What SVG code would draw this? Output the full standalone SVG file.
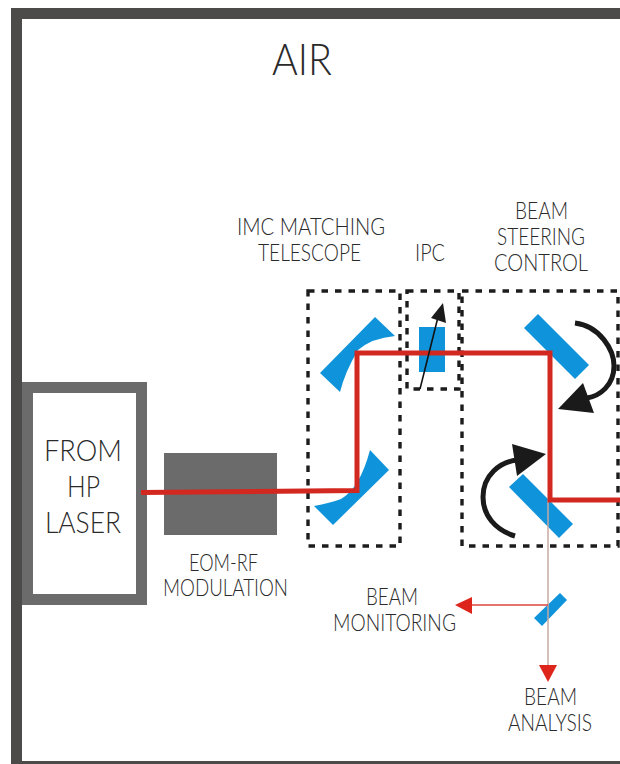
<svg xmlns="http://www.w3.org/2000/svg" width="620" height="764" viewBox="0 0 620 764">
<style>
text{font-family:"Lato","Liberation Sans",sans-serif;font-weight:300;fill:#2a2a2a;text-anchor:start}
.s{font-size:23px}
.l{font-size:30px}
.m{fill:#0f93da}
.d{fill:none;stroke:#1c1c1c;stroke-width:3.4;stroke-dasharray:6.5 7}
.b{fill:none;stroke:#d3281f;stroke-width:5;stroke-linejoin:miter}
.c{fill:none;stroke:#1a1a1a;stroke-width:5}
.t{fill:#1a1a1a}
.g{fill:#6b6b6b}
</style>
<rect width="620" height="764" fill="#fff"/>
<g id="frame"><path d="M620 8H11V764H22V19H620Z" fill="#4d4a4a"/><rect x="22" y="761" width="598" height="3" fill="#4d4a4a"/></g>
<g id="air"><text x="272" y="75" font-size="44" textLength="60" lengthAdjust="spacingAndGlyphs">AIR</text></g>
<g id="laser"><path fill-rule="evenodd" class="g" d="M22 382H147V605H22ZM33 393V594H136V393Z"/>
<text class="l" x="44" y="461" textLength="78" lengthAdjust="spacingAndGlyphs">FROM</text>
<text class="l" x="67" y="497" textLength="33" lengthAdjust="spacingAndGlyphs">HP</text>
<text class="l" x="45" y="533" textLength="76" lengthAdjust="spacingAndGlyphs">LASER</text></g>
<g id="eom"><rect x="164" y="453" width="113" height="82" class="g"/>
<text class="s" x="189" y="571" textLength="69" lengthAdjust="spacingAndGlyphs">EOM-RF</text>
<text class="s" x="163" y="596" textLength="125" lengthAdjust="spacingAndGlyphs">MODULATION</text></g>
<g id="telescope"><rect x="308" y="291" width="92" height="255" class="d"/>
<text class="s" x="237" y="235" textLength="148" lengthAdjust="spacingAndGlyphs">IMC MATCHING</text>
<text class="s" x="258" y="261" textLength="103" lengthAdjust="spacingAndGlyphs">TELESCOPE</text>
<path class="m" d="M375 317L395 336Q372 338 358 350Q345 372 340 392L320 373Z"/>
<path class="m" d="M370 450L389 470L333 525L314 506Q330 503 341 499Q360 488 370 450Z"/></g>
<g id="ipc"><rect x="407" y="291" width="52" height="98" class="d"/>
<text class="s" x="415" y="261" textLength="30" lengthAdjust="spacingAndGlyphs">IPC</text>
<rect class="m" x="419" y="327" width="26" height="45"/></g>
<g id="steering"><rect x="462" y="291" width="156" height="255" class="d"/>
<text class="s" x="515" y="219" textLength="53" lengthAdjust="spacingAndGlyphs">BEAM</text>
<text class="s" x="497" y="245" textLength="88" lengthAdjust="spacingAndGlyphs">STEERING</text>
<text class="s" x="494" y="271" textLength="94" lengthAdjust="spacingAndGlyphs">CONTROL</text>
<path class="m" d="M538 314L589 365L575 379L524 328Z"/>
<path class="m" d="M523 474L573 524L559 538L509 487Z"/></g>
<g id="pickoff"><path class="m" d="M560 593L567 600L542 626L534 618Z"/></g>
<g id="connectors">
<path d="M548 500V665" fill="none" stroke="#c9a9a0" stroke-width="1.5"/>
<path d="M548 605H472" fill="none" stroke="#d8443c" stroke-width="1.6"/>
<path class="b" d="M141 492.5L357 490.5V353H550V500H620"/>
<path d="M539 665H557L548 682Z" fill="#de251c"/>
<path d="M472 597V614L455 605Z" fill="#de251c"/>
<path d="M420 389L438 317" fill="none" stroke="#111" stroke-width="1.6"/>
<path class="t" d="M443 303L446 323L431 318Z"/>
<path class="c" d="M575 323C600 326 614 350 614 366C614 385 600 396 587 398"/>
<path class="t" d="M558 409L583 383L594 413Z"/>
<path class="c" d="M515 536C495 530 483 515 483 497C483 475 500 462 517 460"/>
<path class="t" d="M546 454L512 444L517 476Z"/>
</g>
<g id="monitoring"><text class="s" x="366" y="605" textLength="52" lengthAdjust="spacingAndGlyphs">BEAM</text>
<text class="s" x="333" y="631" textLength="123" lengthAdjust="spacingAndGlyphs">MONITORING</text></g>
<g id="analysis"><text class="s" x="524" y="705" textLength="53" lengthAdjust="spacingAndGlyphs">BEAM</text>
<text class="s" x="508" y="731" textLength="84" lengthAdjust="spacingAndGlyphs">ANALYSIS</text></g>
</svg>
